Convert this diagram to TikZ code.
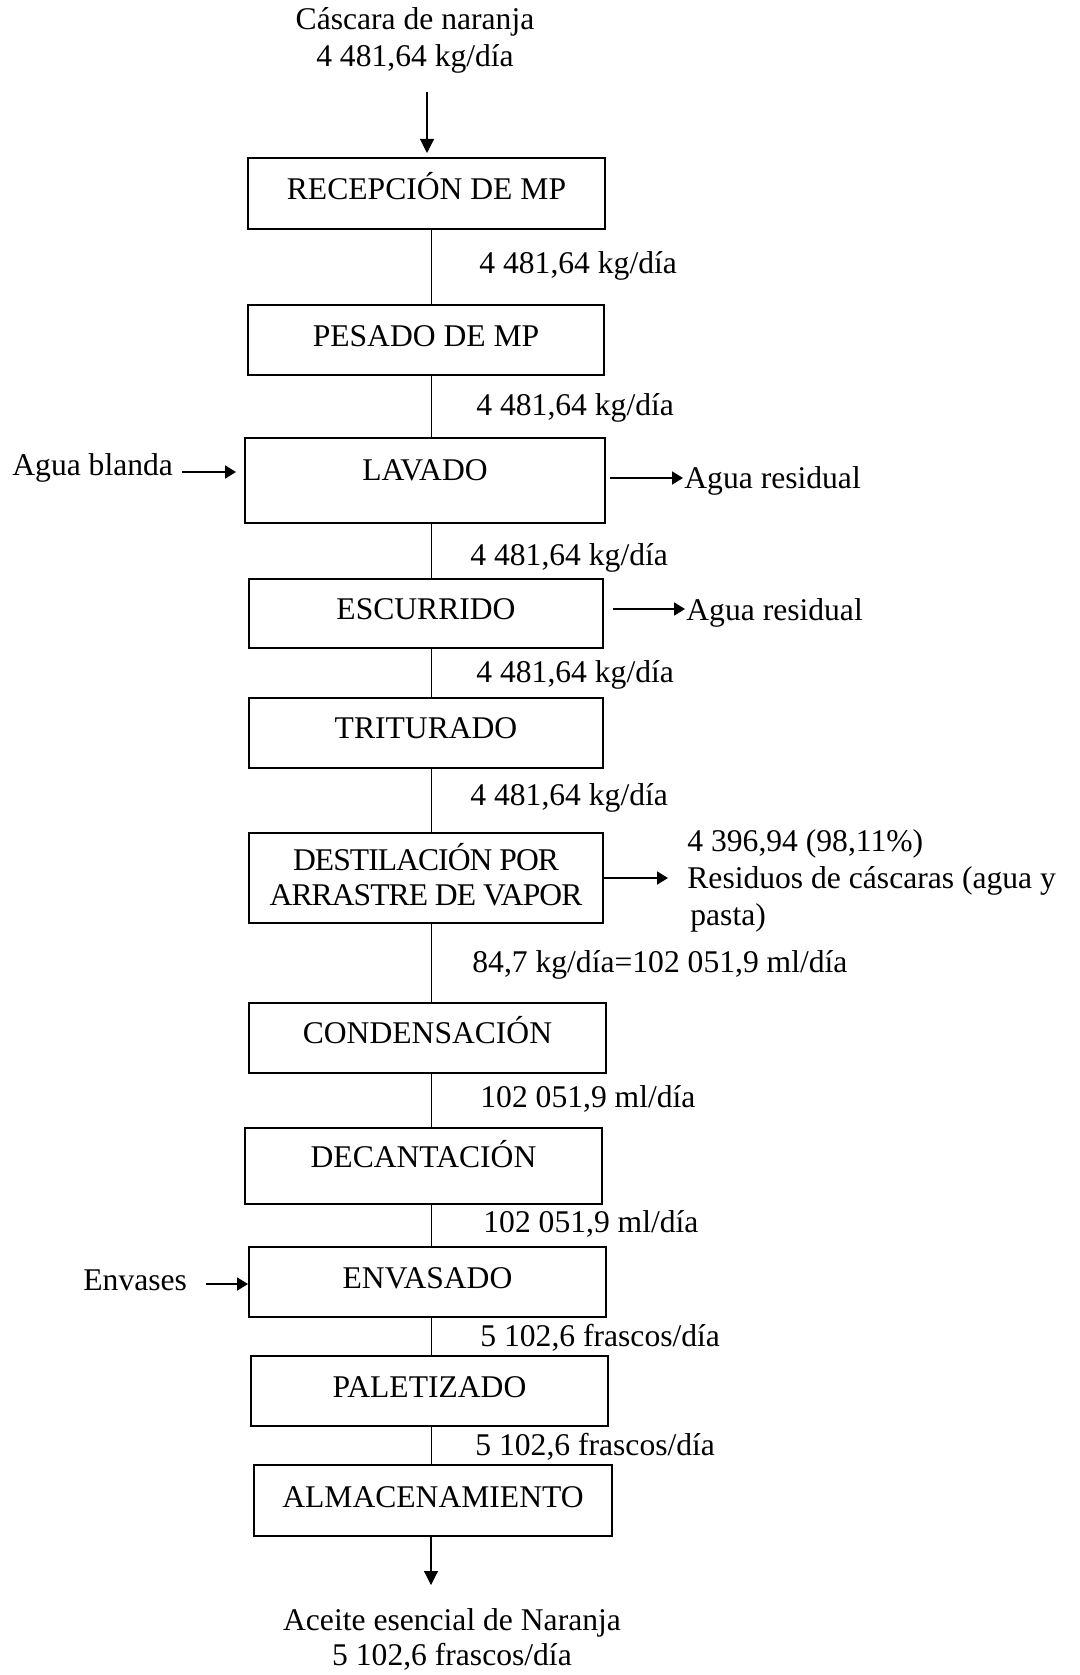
\documentclass[tikz,border=0pt]{standalone}
\usepackage{fontspec}
\setmainfont{Liberation Serif}
\usetikzlibrary{arrows.meta,fit}
\begin{document}
\begin{tikzpicture}[x=0.5pt,y=-0.5pt,
  font=\fontsize{15.8}{18}\selectfont,
  box/.style={draw, line width=1pt, inner sep=0pt},
  lbl/.style={anchor=base west, inner sep=0pt},
  ttl/.style={anchor=base, inner sep=0pt},
  tight/.style={font=\fontsize{15.8}{18}\selectfont\addfontfeatures{LetterSpace=-3}},
  flow/.style={line width=0.5pt},
  vin/.style={line width=0.55pt, -{Triangle[length=7pt,width=7pt]}},
  hout/.style={line width=0.9pt, -{Triangle[length=5.5pt,width=6.5pt]}},
]
\useasboundingbox (0,0) rectangle (1080,1675);
\coordinate (spine) at (431,0);

% raw material entering the line
\node[ttl] (src1) at (415,30) {Cáscara de naranja};
\node[ttl] (src2) at (415,67) {4 481,64 kg/día};

% process steps
\node[box, fit={(248,158) (605,229)}] (recep) {};
\node[ttl] (trecep) at (426.5,199) {RECEPCIÓN DE MP};
\node[box, fit={(248,305) (604,375)}] (pes) {};
\node[ttl] (tpes) at (426,346) {PESADO DE MP};
\node[box, fit={(245,438) (605,523)}] (lav) {};
\node[ttl] (tlav) at (425,480) {LAVADO};
\node[box, fit={(249,579) (603,648)}] (esc) {};
\node[ttl] (tesc) at (426,619) {ESCURRIDO};
\node[box, fit={(249,698) (603,768)}] (trit) {};
\node[ttl] (ttrit) at (426,738) {TRITURADO};
\node[box, fit={(249,833) (603,923)}] (dest) {};
\node[ttl, tight] (tdesta) at (426,870) {DESTILACIÓN POR};
\node[ttl, tight] (tdestb) at (426,905) {ARRASTRE DE VAPOR};
\node[box, fit={(249,1003) (606,1073)}] (cond) {};
\node[ttl] (tcond) at (427.5,1043) {CONDENSACIÓN};
\node[box, fit={(245,1128) (602,1204)}] (dec) {};
\node[ttl] (tdec) at (423.5,1167) {DECANTACIÓN};
\node[box, fit={(249,1247) (606,1317)}] (env) {};
\node[ttl] (tenv) at (427.5,1288) {ENVASADO};
\node[box, fit={(251,1356) (608,1426)}] (pal) {};
\node[ttl] (tpal) at (429.5,1397) {PALETIZADO};
\node[box, fit={(254,1465) (612,1536)}] (alm) {};
\node[ttl] (talm) at (433,1507) {ALMACENAMIENTO};

% main flow
\coordinate (inarrow) at (427,92);
\draw[vin, shorten >=2pt] (inarrow) -- (inarrow |- recep.north);
\draw[flow] (recep.south -| spine) -- (pes.north -| spine);
\draw[flow] (pes.south -| spine) -- (lav.north -| spine);
\draw[flow] (lav.south -| spine) -- (esc.north -| spine);
\draw[flow] (esc.south -| spine) -- (trit.north -| spine);
\draw[flow] (trit.south -| spine) -- (dest.north -| spine);
\draw[flow] (dest.south -| spine) -- (cond.north -| spine);
\draw[flow] (cond.south -| spine) -- (dec.north -| spine);
\draw[flow] (dec.south -| spine) -- (env.north -| spine);
\draw[flow] (env.south -| spine) -- (pal.north -| spine);
\draw[flow] (pal.south -| spine) -- (alm.north -| spine);
\coordinate (outarrow) at (431,1585);
\draw[vin] (alm.south -| spine) -- (outarrow);

% stream quantities
\node[lbl] (q1) at (479,273) {4 481,64 kg/día};
\node[lbl] (q2) at (476,415) {4 481,64 kg/día};
\node[lbl] (q3) at (470,565) {4 481,64 kg/día};
\node[lbl] (q4) at (476,682) {4 481,64 kg/día};
\node[lbl] (q5) at (470,805) {4 481,64 kg/día};
\node[lbl] (q6) at (472,972) {84,7 kg/día=102 051,9 ml/día};
\node[lbl] (q7) at (480,1107) {102 051,9 ml/día};
\node[lbl] (q8) at (483,1232) {102 051,9 ml/día};
\node[lbl] (q9) at (480,1346) {5 102,6 frascos/día};
\node[lbl] (q10) at (475,1455) {5 102,6 frascos/día};

% side inputs
\node[lbl] (agua) at (12,475) {Agua blanda};
\coordinate (aguain) at (182,472);
\draw[hout, shorten >=4pt] (aguain) -- (aguain -| lav.west);
\node[lbl] (envases) at (83,1290) {Envases};
\coordinate (envin) at (206,1284);
\draw[hout] (envin) -- (envin -| env.west);

% side outputs
\coordinate (lavout) at (683,478);
\draw[hout, shorten <=2pt] (lavout -| lav.east) -- (lavout);
\node[lbl] (res1) at (684,488) {Agua residual};
\coordinate (escout) at (685,609);
\draw[hout, shorten <=4.5pt] (escout -| esc.east) -- (escout);
\node[lbl] (res2) at (686,620) {Agua residual};
\coordinate (destout) at (668,878);
\draw[hout] (destout -| dest.east) -- (destout);
\node[lbl] (res3a) at (687,851) {4 396,94 (98,11\%)};
\node[lbl] (res3b) at (687,888) {Residuos de cáscaras (agua y};
\node[lbl] (res3c) at (690,925) {pasta)};

% final product
\node[ttl] (prod1) at (452,1630) {Aceite esencial de Naranja};
\node[ttl] (prod2) at (452,1665) {5 102,6 frascos/día};
\end{tikzpicture}
\end{document}
